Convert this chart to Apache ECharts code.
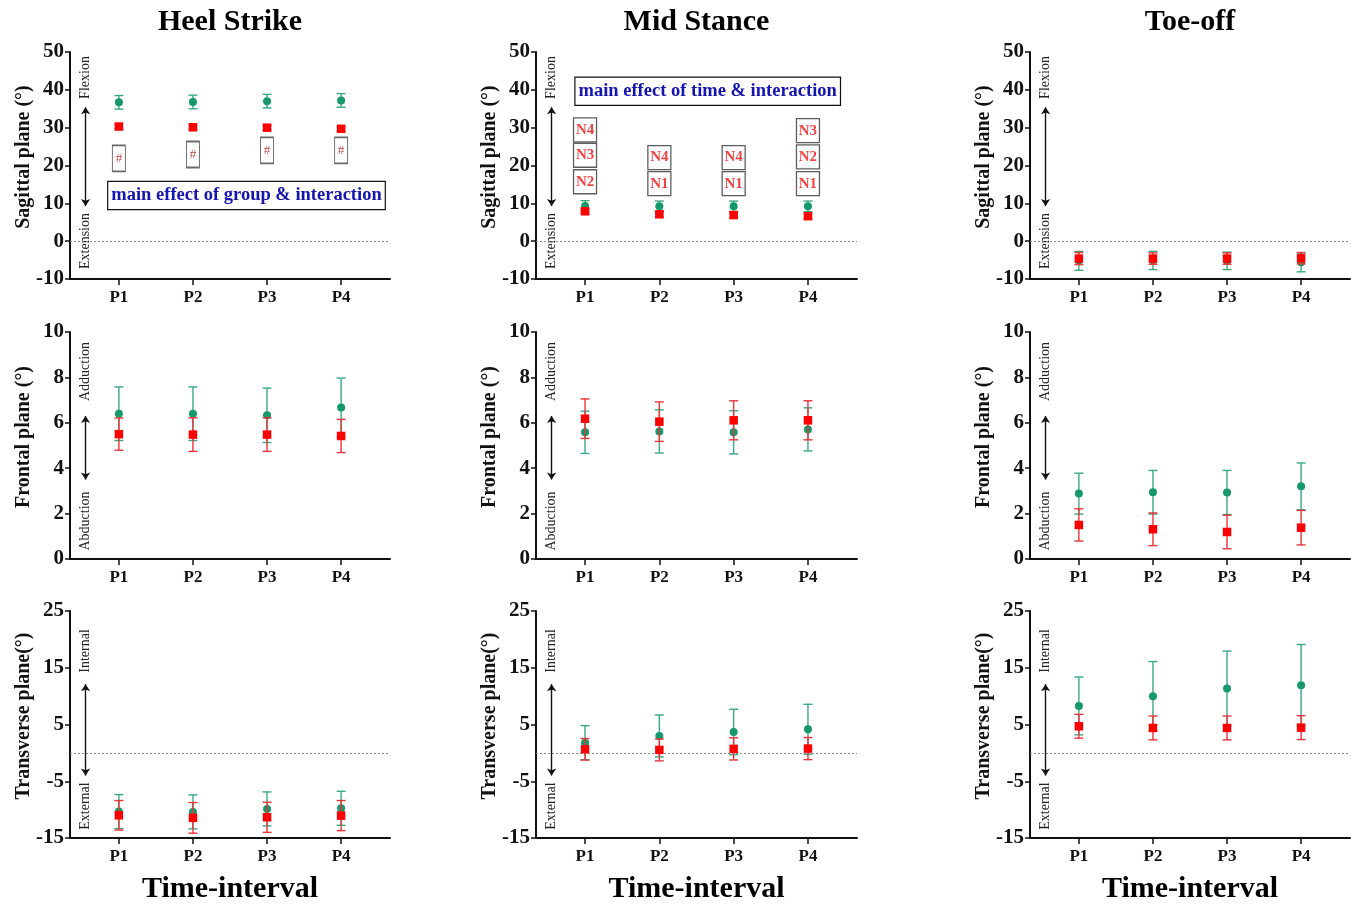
<!DOCTYPE html>
<html>
<head>
<meta charset="utf-8">
<script src="https://cdn.jsdelivr.net/npm/echarts@6/dist/echarts.min.js"></script>
<style>
  html, body { margin: 0; background: #fff; }
  #main { width: 1360px; height: 904px; }
</style>
</head>
<body>
<div id="main"></div>
<script>
// 数据
var categories = ['P1', 'P2', 'P3', 'P4'];
var phases = ['Heel Strike', 'Mid Stance', 'Toe-off'];
var planeNames = ['Sagittal plane (°)', 'Frontal plane (°)', 'Transverse plane(°)'];
var directionWords = [['Flexion', 'Extension'], ['Adduction', 'Abduction'], ['Internal', 'External']];
// [min, max, interval] of each row
var yRanges = [[-10, 50, 10], [0, 10, 2], [-15, 25, 10]];

// each plane: [heel strike, mid stance, toe-off], values P1..P4
var sagittalGreen   = [[36.7, 36.8, 37.0, 37.2], [9.3, 9.2, 9.2, 9.2], [-5.2, -5.1, -5.2, -5.6]];
var sagittalGreenSd = [[1.8, 1.8, 1.8, 1.8], [1.4, 1.4, 1.4, 1.4], [2.5, 2.4, 2.3, 2.5]];
var sagittalRed     = [[30.3, 30.1, 30.0, 29.7], [7.9, 7.1, 6.9, 6.6], [-4.6, -4.6, -4.6, -4.5]];
var sagittalRedSd   = [[0.6, 0.6, 0.6, 0.6], [0.7, 0.7, 0.7, 0.7], [1.6, 1.5, 1.5, 1.5]];

var frontalGreen   = [[6.4, 6.4, 6.33, 6.67], [5.58, 5.62, 5.58, 5.71], [2.88, 2.94, 2.93, 3.2]];
var frontalGreenSd = [[1.18, 1.18, 1.2, 1.3], [0.93, 0.95, 0.95, 0.95], [0.9, 0.96, 0.97, 1.03]];
var frontalRed     = [[5.5, 5.48, 5.48, 5.42], [6.18, 6.05, 6.11, 6.11], [1.5, 1.31, 1.19, 1.38]];
var frontalRedSd   = [[0.71, 0.74, 0.74, 0.73], [0.87, 0.87, 0.86, 0.86], [0.71, 0.72, 0.74, 0.76]];

var transverseGreen   = [[-10.35, -10.4, -9.88, -9.76], [1.8, 2.98, 3.69, 4.16], [8.27, 10.0, 11.33, 11.9]];
var transverseGreenSd = [[3.0, 3.0, 3.0, 3.0], [3.0, 3.7, 4.0, 4.4], [5.1, 6.1, 6.6, 7.2]];
var transverseRed     = [[-11.0, -11.45, -11.35, -11.05], [0.63, 0.52, 0.7, 0.76], [4.69, 4.39, 4.39, 4.45]];
var transverseRedSd   = [[2.6, 2.7, 2.65, 2.65], [1.9, 1.93, 1.95, 1.95], [2.1, 2.1, 2.1, 2.1]];

// significance boxes: [category index, y value, text]
var heelSagittalMarks = [[1, 21.9, '#'], [2, 22.9, '#'], [3, 24.0, '#'], [4, 24.0, '#']];
var midSagittalMarks = [
  [1, 15.7, 'N2'], [1, 22.7, 'N3'], [1, 29.4, 'N4'],
  [2, 15.2, 'N1'], [2, 22.1, 'N4'],
  [3, 15.2, 'N1'], [3, 22.1, 'N4'],
  [4, 15.2, 'N1'], [4, 22.3, 'N2'], [4, 29.2, 'N3']
];
// double arrow range in each row (y values)
var arrowRanges = [[9.3, 35.4], [3.5, 6.3], [-4, 12.1]];

var planes = [
  [sagittalGreen, sagittalGreenSd, sagittalRed, sagittalRedSd],
  [frontalGreen, frontalGreenSd, frontalRed, frontalRedSd],
  [transverseGreen, transverseGreenSd, transverseRed, transverseRedSd]
];

var FONT = '"Liberation Serif", "DejaVu Serif", serif';
var GREEN = '#15996a', GREEN_BAR = '#3aa980';
var RED = '#ff0000', RED_BAR = '#e8353a';

var lefts = [70, 536, 1030];
var widths = [320, 321, 320];
var tops = [52, 332, 611];
var H = 227;
var X_MIN = 0.34, X_MAX = 4.66;
var ARROW_X = 0.55;

// 误差线
function errorBar(color) {
  return function (params, api) {
    var x = api.value(0);
    var top = api.coord([x, api.value(2)]);
    var bot = api.coord([x, api.value(1)]);
    var hw = 4.5;
    var style = { stroke: color, lineWidth: 1.4 };
    return {
      type: 'group',
      children: [
        { type: 'line', shape: { x1: top[0], y1: top[1], x2: bot[0], y2: bot[1] }, style: style },
        { type: 'line', shape: { x1: top[0] - hw, y1: top[1], x2: top[0] + hw, y2: top[1] }, style: style },
        { type: 'line', shape: { x1: bot[0] - hw, y1: bot[1], x2: bot[0] + hw, y2: bot[1] }, style: style }
      ]
    };
  };
}

function barData(mean, sd) {
  return mean.map(function (m, i) { return [i + 1, m - sd[i], m + sd[i]]; });
}
function pointData(mean) {
  return mean.map(function (m, i) { return [i + 1, m]; });
}

var grids = [], xAxes = [], yAxes = [], series = [], graphics = [];

for (var r = 0; r < 3; r++) {
  for (var c = 0; c < 3; c++) {
    var idx = r * 3 + c;
    grids.push({ left: lefts[c], top: tops[r], width: widths[c], height: H });
    xAxes.push({
      gridIndex: idx, type: 'value', min: X_MIN, max: X_MAX,
      splitLine: { show: false },
      axisLine: { onZero: false, lineStyle: { color: '#111', width: 2 } },
      axisTick: { customValues: [1, 2, 3, 4], length: 6, lineStyle: { color: '#111', width: 1.5 } },
      axisLabel: {
        customValues: [1, 2, 3, 4], margin: 10,
        formatter: function (v) { return categories[Math.round(v) - 1]; },
        fontFamily: FONT, fontWeight: 'bold', fontSize: 17, color: '#111'
      }
    });
    yAxes.push({
      gridIndex: idx, type: 'value',
      min: yRanges[r][0], max: yRanges[r][1], interval: yRanges[r][2],
      splitLine: { show: false },
      axisLine: { show: true, onZero: false, lineStyle: { color: '#111', width: 2 } },
      axisTick: { show: true, length: 5, lineStyle: { color: '#111', width: 1.5 } },
      axisLabel: { fontFamily: FONT, fontWeight: 'bold', fontSize: 21, color: '#111', margin: 6 }
    });

    // 轴名称
    graphics.push({
      type: 'text', x: lefts[c] - 46, y: tops[r] + 105, rotation: Math.PI / 2,
      style: { text: planeNames[r], fontFamily: FONT, fontWeight: 'bold', fontSize: 20, fill: '#111', align: 'center', verticalAlign: 'middle' }
    });

    var p = planes[r];
    var markData = [];
    if (yRanges[r][0] < 0) {
      markData.push({ yAxis: 0, symbol: 'none', lineStyle: { type: [2, 2], color: '#8a8a8a', width: 1 } });
    }
    markData.push([
      { coord: [ARROW_X, arrowRanges[r][0]], symbol: 'arrow' },
      { coord: [ARROW_X, arrowRanges[r][1]], symbol: 'arrow' }
    ]);

    series.push({
      type: 'custom', xAxisIndex: idx, yAxisIndex: idx,
      renderItem: errorBar(GREEN_BAR), data: barData(p[0][c], p[1][c]), z: 2,
      markLine: {
        silent: true, symbol: ['none', 'none'], symbolSize: 7, label: { show: false },
        lineStyle: { color: '#111', width: 1.4, type: 'solid' }, data: markData
      }
    });
    series.push({
      type: 'scatter', xAxisIndex: idx, yAxisIndex: idx, symbol: 'circle', symbolSize: 8,
      itemStyle: { color: GREEN, opacity: 1 }, data: pointData(p[0][c]), z: 3
    });
    series.push({
      type: 'custom', xAxisIndex: idx, yAxisIndex: idx,
      renderItem: errorBar(RED_BAR), data: barData(p[2][c], p[3][c]), z: 4
    });
    series.push({
      type: 'scatter', xAxisIndex: idx, yAxisIndex: idx, symbol: 'rect', symbolSize: 8.5,
      itemStyle: { color: RED, opacity: 1 }, data: pointData(p[2][c]), z: 5
    });

    // 方向文字
    var tx = lefts[c] + 15.5;
    var upperY = [77.5, 371.5, 651][r];
    var lowerY = [241, 521, 806][r];
    [[upperY, directionWords[r][0]], [lowerY, directionWords[r][1]]].forEach(function (d) {
      graphics.push({
        type: 'text', x: tx, y: d[0], rotation: Math.PI / 2,
        style: { text: d[1], fontFamily: FONT, fontSize: 14, fill: '#222', align: 'center', verticalAlign: 'middle' }
      });
    });
  }
}

// 显著性标记
series.push({
  type: 'scatter', xAxisIndex: 0, yAxisIndex: 0, symbol: 'rect', symbolSize: [13, 26], z: 6,
  itemStyle: { color: '#fff', borderColor: '#444', borderWidth: 1.3 },
  label: {
    show: true, position: 'inside', formatter: function (q) { return q.data[2]; },
    fontFamily: FONT, fontSize: 13, color: '#b01818'
  },
  data: heelSagittalMarks
});
series.push({
  type: 'scatter', xAxisIndex: 1, yAxisIndex: 1, symbol: 'rect', symbolSize: [23, 24], z: 6,
  itemStyle: { color: '#fff', borderColor: '#333', borderWidth: 1.3 },
  label: {
    show: true, position: 'inside', formatter: function (q) { return q.data[2]; },
    fontFamily: FONT, fontWeight: 'bold', fontSize: 15, color: '#ee1111'
  },
  data: midSagittalMarks
});

// 效果说明框
graphics.push({
  type: 'text', x: 246.5, y: 195.5,
  style: {
    text: 'main effect of group & interaction', fontFamily: FONT, fontWeight: 'bold', fontSize: 18.5,
    fill: '#1515b0', align: 'center', verticalAlign: 'middle',
    backgroundColor: '#fff', borderColor: '#111', borderWidth: 1.2, padding: [4, 3, 4, 3]
  }
});
graphics.push({
  type: 'text', x: 707.7, y: 91.3,
  style: {
    text: 'main effect of time & interaction', fontFamily: FONT, fontWeight: 'bold', fontSize: 18.5,
    fill: '#1515b0', align: 'center', verticalAlign: 'middle',
    backgroundColor: '#fff', borderColor: '#111', borderWidth: 1.2, padding: [4, 3, 4, 3]
  }
});

// 标题
for (var k = 0; k < 3; k++) {
  var cx = lefts[k] + widths[k] / 2;
  graphics.push({
    type: 'text', x: cx, y: 22,
    style: { text: phases[k], fontFamily: FONT, fontWeight: 'bold', fontSize: 30, fill: '#000', align: 'center', verticalAlign: 'middle' }
  });
  graphics.push({
    type: 'text', x: cx, y: 889,
    style: { text: 'Time-interval', fontFamily: FONT, fontWeight: 'bold', fontSize: 30, fill: '#000', align: 'center', verticalAlign: 'middle' }
  });
}

var chart = echarts.init(document.getElementById('main'));
chart.setOption({
  animation: false,
  backgroundColor: '#fff',
  grid: grids,
  xAxis: xAxes,
  yAxis: yAxes,
  series: series,
  graphic: graphics
});
</script>
</body>
</html>
